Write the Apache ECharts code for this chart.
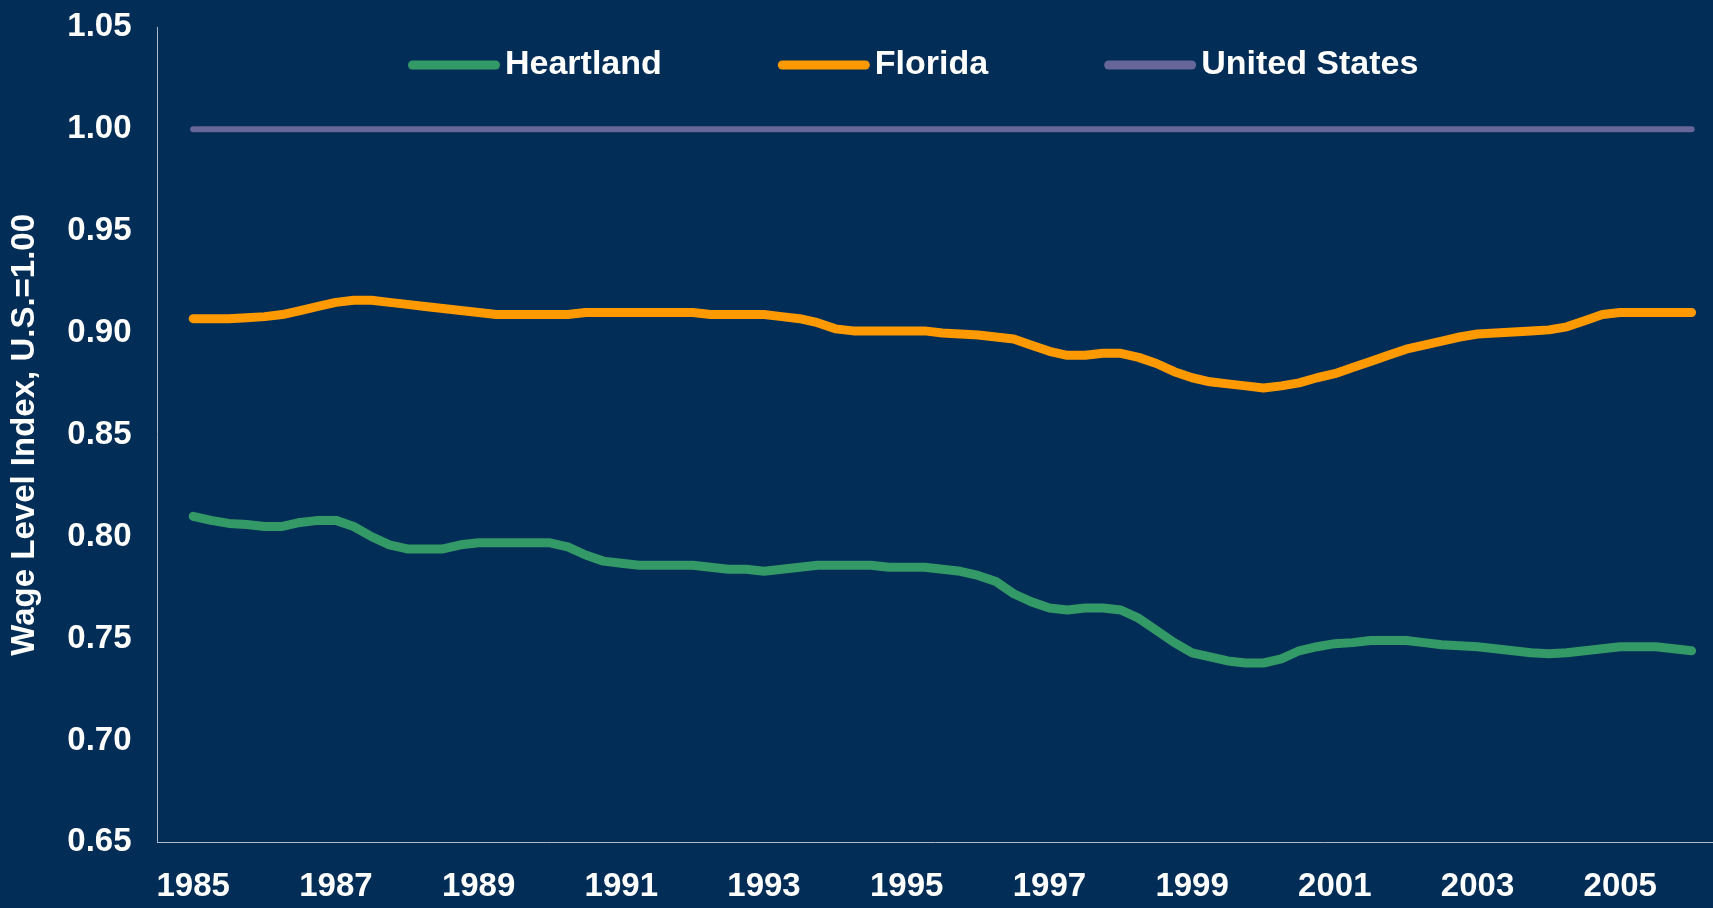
<!DOCTYPE html>
<html>
<head>
<meta charset="utf-8">
<script src="https://cdn.jsdelivr.net/npm/echarts@6/dist/echarts.min.js"></script>
<style>
  html, body { margin: 0; padding: 0; background: #022D56; }
  #chart { width: 1713px; height: 908px; }
</style>
</head>
<body>
<div id="chart"></div>
<script>
// Quarterly observations, 1985 Q1 through 2006 Q1
const firstYear = 1985;
const yearLabels = ['1985','1987','1989','1991','1993','1995','1997','1999','2001','2003','2005'];

const heartland = [
  0.810, 0.808, 0.8065, 0.806,   // 1985
  0.805, 0.805, 0.807, 0.808,    // 1986
  0.808, 0.805, 0.800, 0.796,    // 1987
  0.794, 0.794, 0.794, 0.796,    // 1988
  0.797, 0.797, 0.797, 0.797,    // 1989
  0.797, 0.795, 0.791, 0.788,    // 1990
  0.787, 0.786, 0.786, 0.786,    // 1991
  0.786, 0.785, 0.784, 0.784,    // 1992
  0.783, 0.784, 0.785, 0.786,    // 1993
  0.786, 0.786, 0.786, 0.785,    // 1994
  0.785, 0.785, 0.784, 0.783,    // 1995
  0.781, 0.778, 0.772, 0.768,    // 1996
  0.765, 0.764, 0.765, 0.765,    // 1997
  0.764, 0.760, 0.754, 0.748,    // 1998
  0.743, 0.741, 0.739, 0.738,    // 1999
  0.738, 0.740, 0.744, 0.746,    // 2000
  0.7475, 0.748, 0.749, 0.749,   // 2001
  0.749, 0.748, 0.747, 0.7465,   // 2002
  0.746, 0.745, 0.744, 0.743,    // 2003
  0.7425, 0.743, 0.744, 0.745,   // 2004
  0.746, 0.746, 0.746, 0.745,    // 2005
  0.744                          // 2006
];

const florida = [
  0.907, 0.907, 0.907, 0.9075,   // 1985
  0.908, 0.909, 0.911, 0.913,    // 1986
  0.915, 0.916, 0.916, 0.915,    // 1987
  0.914, 0.913, 0.912, 0.911,    // 1988
  0.910, 0.909, 0.909, 0.909,    // 1989
  0.909, 0.909, 0.910, 0.910,    // 1990
  0.910, 0.910, 0.910, 0.910,    // 1991
  0.910, 0.909, 0.909, 0.909,    // 1992
  0.909, 0.908, 0.907, 0.905,    // 1993
  0.902, 0.901, 0.901, 0.901,    // 1994
  0.901, 0.901, 0.900, 0.8995,   // 1995
  0.899, 0.898, 0.897, 0.894,    // 1996
  0.891, 0.889, 0.889, 0.890,    // 1997
  0.890, 0.888, 0.885, 0.881,    // 1998
  0.878, 0.876, 0.875, 0.874,    // 1999
  0.873, 0.874, 0.8755, 0.878,   // 2000
  0.880, 0.883, 0.886, 0.889,    // 2001
  0.892, 0.894, 0.896, 0.898,    // 2002
  0.8995, 0.900, 0.9005, 0.901,  // 2003
  0.9015, 0.903, 0.906, 0.909,   // 2004
  0.910, 0.910, 0.910, 0.910,    // 2005
  0.910                          // 2006
];

const unitedStates = [
  1.00, 1.00, 1.00, 1.00,  1.00, 1.00, 1.00, 1.00,  1.00, 1.00, 1.00, 1.00,
  1.00, 1.00, 1.00, 1.00,  1.00, 1.00, 1.00, 1.00,  1.00, 1.00, 1.00, 1.00,
  1.00, 1.00, 1.00, 1.00,  1.00, 1.00, 1.00, 1.00,  1.00, 1.00, 1.00, 1.00,
  1.00, 1.00, 1.00, 1.00,  1.00, 1.00, 1.00, 1.00,  1.00, 1.00, 1.00, 1.00,
  1.00, 1.00, 1.00, 1.00,  1.00, 1.00, 1.00, 1.00,  1.00, 1.00, 1.00, 1.00,
  1.00, 1.00, 1.00, 1.00,  1.00, 1.00, 1.00, 1.00,  1.00, 1.00, 1.00, 1.00,
  1.00, 1.00, 1.00, 1.00,  1.00, 1.00, 1.00, 1.00,  1.00, 1.00, 1.00, 1.00,
  1.00
];

const yTicks = [0.65, 0.70, 0.75, 0.80, 0.85, 0.90, 0.95, 1.00, 1.05];

// quarter positions (1985 Q1 = 1985.00, Q2 = 1985.25, ...)
function toPairs(values) {
  return values.map((v, i) => [firstYear + i / 4, v]);
}

const FONT = '"Liberation Sans", Arial, Helvetica, sans-serif';
const capsule = 'path://M4.5,0 L87.5,0 A4.5,4.5 0 0 1 87.5,9 L4.5,9 A4.5,4.5 0 0 1 4.5,0 Z';

const chart = echarts.init(document.getElementById('chart'), null, { renderer: 'canvas' });

chart.setOption({
  backgroundColor: '#022D56',
  animation: false,
  textStyle: { fontFamily: FONT },
  grid: {
    left: 157.5, right: 0, top: 27.3, bottom: 65.7,
    containLabel: false,
    outerBoundsMode: 'none'
  },
  legend: {
    left: 403,
    top: 43,
    itemWidth: 92,
    itemHeight: 9,
    itemGap: 116,
    icon: capsule,
    textStyle: { color: '#ffffff', fontSize: 34, fontWeight: 'bold', fontFamily: FONT },
    data: ['Heartland', 'Florida', 'United States']
  },
  xAxis: {
    type: 'value',
    min: 1984.5,
    max: 2006.3,
    interval: 0.5,
    axisLine: { show: true, lineStyle: { color: '#AEB8C6', width: 1 } },
    axisTick: { show: false },
    splitLine: { show: false },
    axisLabel: {
      color: '#ffffff',
      fontSize: 33,
      fontWeight: 'bold',
      fontFamily: FONT,
      margin: 28,
      showMinLabel: true,
      showMaxLabel: true,
      formatter: function (v) {
        const s = String(Math.round(v));
        return (Math.abs(v - Math.round(v)) < 1e-6 && yearLabels.indexOf(s) >= 0) ? s : '';
      }
    }
  },
  yAxis: {
    type: 'value',
    min: yTicks[0],
    max: yTicks[yTicks.length - 1],
    interval: 0.05,
    name: 'Wage Level Index, U.S.=1.00',
    nameLocation: 'middle',
    nameGap: 116,
    nameRotate: 90,
    nameTextStyle: { color: '#ffffff', fontSize: 33, fontWeight: 'bold', fontFamily: FONT },
    axisLine: { show: true, lineStyle: { color: '#AEB8C6', width: 1 } },
    axisTick: { show: false },
    splitLine: { show: false },
    axisLabel: {
      color: '#ffffff',
      fontSize: 33,
      fontWeight: 'bold',
      fontFamily: FONT,
      margin: 26,
      formatter: function (v) { return v.toFixed(2); }
    }
  },
  series: [
    {
      name: 'Heartland',
      type: 'line',
      data: toPairs(heartland),
      showSymbol: false,
      symbol: 'none',
      color: '#339966',
      lineStyle: { width: 9, color: '#339966', cap: 'round', join: 'round' },
      z: 3
    },
    {
      name: 'Florida',
      type: 'line',
      data: toPairs(florida),
      showSymbol: false,
      symbol: 'none',
      color: '#FF9900',
      lineStyle: { width: 9, color: '#FF9900', cap: 'round', join: 'round' },
      z: 3
    },
    {
      name: 'United States',
      type: 'line',
      data: toPairs(unitedStates),
      showSymbol: false,
      symbol: 'none',
      color: '#666699',
      lineStyle: { width: 6, color: '#666699', cap: 'round', join: 'round' },
      z: 2
    }
  ]
});
</script>
</body>
</html>
